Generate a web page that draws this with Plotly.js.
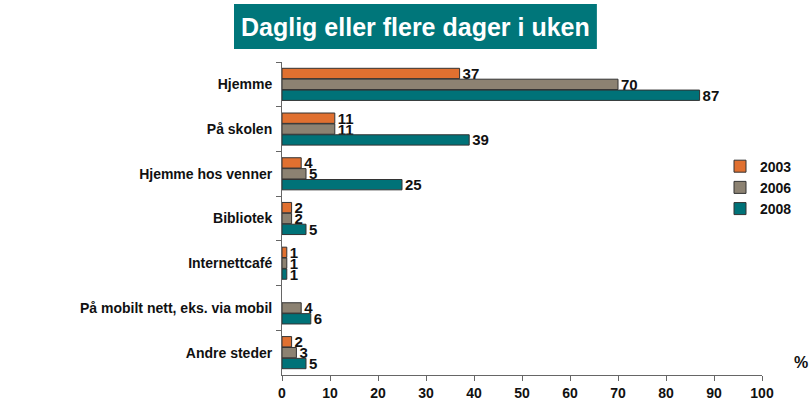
<!DOCTYPE html>
<html><head><meta charset="utf-8">
<script src="https://cdn.plot.ly/plotly-3.0.1.min.js"></script>
<style>body{margin:0;background:#fff}</style>
</head><body>
<div id="chart" style="width:810px;height:410px"></div>
<script>
const categories = ["Hjemme","På skolen","Hjemme hos venner","Bibliotek","Internettcafé","På mobilt nett, eks. via mobil","Andre steder"];
const years = ["2003","2006","2008"];
const v2003 = [37, 11, 4, 2, 1, null, 2];
const v2006 = [70, 11, 5, 2, 1, 4, 3];
const v2008 = [87, 39, 25, 5, 1, 6, 5];
const xTicks = [0,10,20,30,40,50,60,70,80,90,100];
const colors = ["#E07030", "#8C8272", "#007278"];
const series = [v2003, v2006, v2008];

const font = "Arial, 'Liberation Sans', sans-serif";
const traces = series.map((vals, i) => ({
  type: "bar", orientation: "h", name: years[i],
  y: categories, x: vals,
  marker: {color: colors[i], line: {color: "#333", width: 1}},
  text: vals.map(v => v == null ? "" : String(v)),
  textposition: "outside", cliponaxis: false, constraintext: "none",
  textfont: {family: font, size: 15, color: "#111", weight: "bold"},
  hoverinfo: "skip"
}));

const layout = {
  width: 810, height: 410,
  margin: {l: 282, r: 48, t: 62, b: 35},
  paper_bgcolor: "#fff", plot_bgcolor: "#fff",
  barmode: "group", bargap: 0.27, bargroupgap: 0.05,
  font: {family: font, size: 14, color: "#111"},
  showlegend: true,
  legend: {x: 0.9125, xanchor: "left", y: 0.717, yanchor: "top", bgcolor: "rgba(0,0,0,0)",
    font: {family: font, size: 14, color: "#111", weight: "bold"}, itemwidth: 30, tracegroupgap: 0},
  xaxis: {range: [0, 100], tickvals: xTicks, ticktext: xTicks.map(String),
    showgrid: false, zeroline: false, showline: true, linecolor: "#666", linewidth: 1,
    ticks: "outside", ticklen: 5, tickcolor: "#666",
    tickfont: {family: font, size: 14, color: "#111", weight: "bold"}, fixedrange: true},
  yaxis: {autorange: "reversed", type: "category", showgrid: false, zeroline: false,
    showline: true, linecolor: "#666", linewidth: 1,
    ticks: "outside", ticklen: 5, tickcolor: "#666", tickson: "boundaries",
    ticklabelstandoff: 6,
    tickfont: {family: font, size: 14, color: "#111", weight: "bold"}, fixedrange: true},
  shapes: [{type: "rect", xref: "paper", yref: "paper", x0: -0.1, x1: 0.656, y0: 1.0415, y1: 1.185,
    fillcolor: "#00767A", line: {width: 0}, layer: "below"}],
  annotations: [
    {text: "Daglig eller flere dager i uken", xref: "paper", yref: "paper", x: 0.278, y: 1.112,
     xanchor: "center", yanchor: "middle", showarrow: false,
     font: {family: font, size: 25, color: "#fff", weight: "bold"}},
    {text: "%", xref: "paper", yref: "paper", x: 1.081, y: 0.039, xanchor: "center", yanchor: "middle",
     showarrow: false, font: {family: font, size: 16, color: "#111", weight: "bold"}}
  ]
};
Plotly.newPlot("chart", traces, layout, {displayModeBar: false, staticPlot: true});
</script>
</body></html>
